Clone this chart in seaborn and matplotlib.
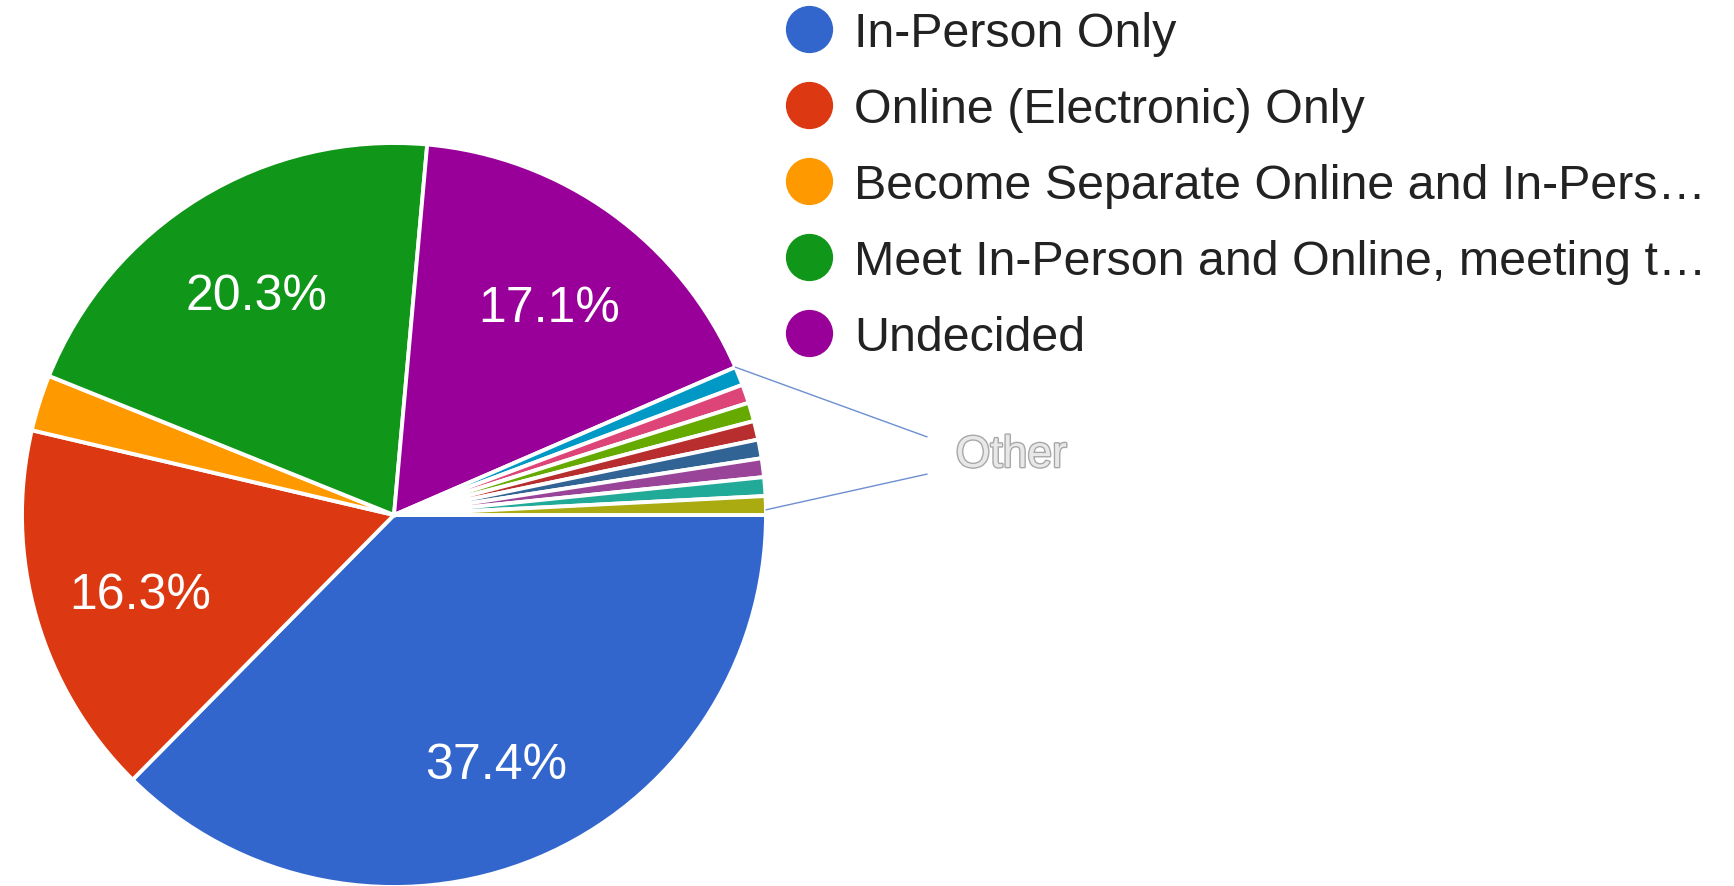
#!/usr/bin/env python3
''' Pie chart of survey responses: how should meetings be held. Saves out.png '''

import numpy as np
import matplotlib
matplotlib.use('Agg')
import matplotlib.pyplot as plt
import matplotlib.patheffects as pe
from matplotlib.lines import Line2D
import seaborn as sns

# responses (n = 123)
labels = ['In-Person Only',
          'Online (Electronic) Only',
          'Become Separate Online and In-Pers\u2026',
          'Meet In-Person and Online, meeting t\u2026',
          'Undecided',
          'Other 1', 'Other 2', 'Other 3', 'Other 4',
          'Other 5', 'Other 6', 'Other 7', 'Other 8']
counts = [46, 20, 3, 25, 21, 1, 1, 1, 1, 1, 1, 1, 1]
colors = ['#3366cc', '#dc3912', '#ff9900', '#109618', '#990099',
          '#0099c6', '#dd4477', '#66aa00', '#b82e2e', '#316395',
          '#994499', '#22aa99', '#aaaa11']
n_legend = 5

sns.set_theme(style='white')
plt.rcParams['font.family'] = ['Liberation Sans', 'DejaVu Sans']
palette = sns.color_palette(colors)

fig = plt.figure(figsize=(17.34, 8.87), dpi=100)
ax = fig.add_axes([0, 0, 1, 1])

def pct_label(p):
    return '%.1f%%' % p if p > 5 else ''

wedges, texts, autotexts = ax.pie(counts, colors=palette, startangle=0, counterclock=False,
                                  autopct=pct_label, pctdistance=0.71,
                                  wedgeprops=dict(edgecolor='white', linewidth=2.8),
                                  textprops=dict(color='white', fontsize=36))
# nudge labels slightly down, like the original
for t in autotexts:
    x, y = t.get_position()
    t.set_position((x, y - 0.018))

### leader lines for the small "Other" slices
t_top = np.deg2rad(wedges[n_legend].theta2)
t_bot = np.deg2rad(wedges[-1].theta1 + 0.8)
line_col = '#6d8fd1'
ax.plot([np.cos(t_top), 1.433], [np.sin(t_top), 0.21], color=line_col, lw=1)
ax.plot([np.cos(t_bot), 1.433], [np.sin(t_bot), 0.11], color=line_col, lw=1)
ax.text(1.51, 0.16, 'Other', fontsize=32, color='#e8e8e8', ha='left', va='center',
        path_effects=[pe.withStroke(linewidth=2, foreground='#a8a8a8')])

### legend with circle markers (first five only)
handles = [Line2D([0], [0], marker='o', linestyle='', markersize=33,
                  markerfacecolor=colors[i], markeredgecolor=colors[i])
           for i in range(n_legend)]
ax.legend(handles, labels[:n_legend], loc='upper left', bbox_to_anchor=(0.4245, 1.036),
          frameon=False, fontsize=34.8, labelspacing=0.645, handletextpad=0.35,
          handlelength=1.2, labelcolor='#222222')

ax.set_xlim(-394 / 372, (1734 - 394) / 372)
ax.set_ylim(-(887 - 516) / 372, 516 / 372)
ax.set_aspect('auto')
ax.axis('off')

fig.savefig('out.png', dpi=100)
plt.close()
